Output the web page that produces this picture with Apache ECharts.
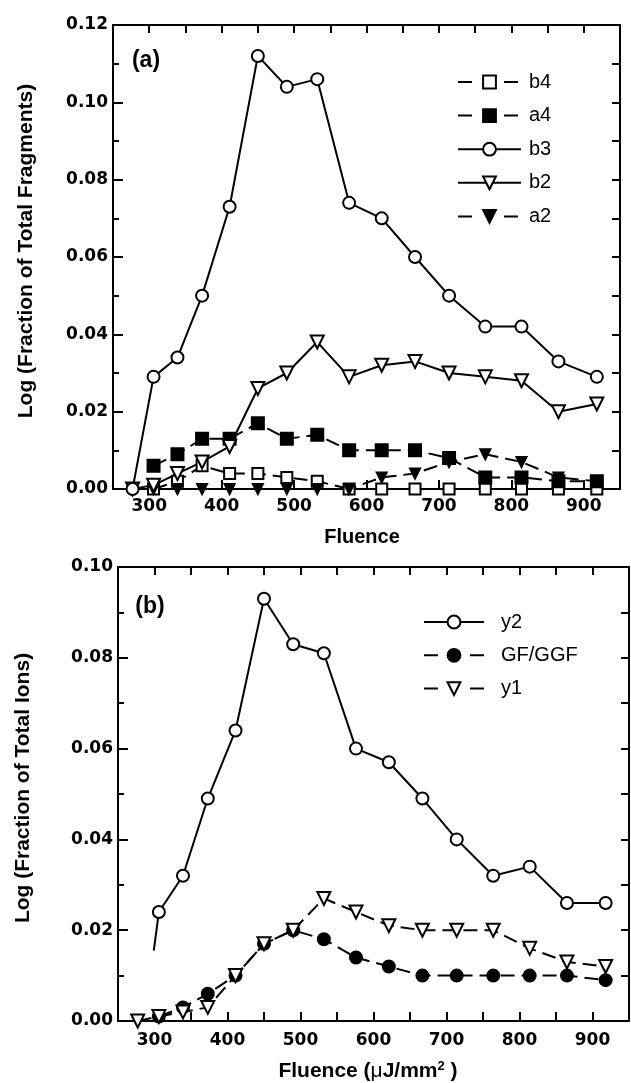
<!DOCTYPE html>
<html><head><meta charset="utf-8">
<script src="https://cdn.jsdelivr.net/npm/echarts@6/dist/echarts.min.js"></script>
<style>html,body{margin:0;padding:0;background:#fff}#c{width:631px;height:1083px}</style>
</head><body><div id="c"></div>
<script>
// ---- data ----
const fluence = [277, 306, 339, 373, 411, 450, 490, 532, 576, 621, 667, 714, 764, 814, 865, 918];
// panel (a)
const b4 = [null, 0, 0.002, 0.006, 0.004, 0.004, 0.003, 0.002, 0, 0, 0, 0, 0, 0, 0, 0];
const a4 = [null, 0.006, 0.009, 0.013, 0.013, 0.017, 0.013, 0.014, 0.010, 0.010, 0.010, 0.008, 0.003, 0.003, 0.002, 0.002];
const b3 = [0, 0.029, 0.034, 0.050, 0.073, 0.112, 0.104, 0.106, 0.074, 0.070, 0.060, 0.050, 0.042, 0.042, 0.033, 0.029];
const b2 = [0, 0.001, 0.004, 0.007, 0.011, 0.026, 0.030, 0.038, 0.029, 0.032, 0.033, 0.030, 0.029, 0.028, 0.020, 0.022];
const a2 = [null, 0, 0, 0, 0, 0, 0, 0, 0, 0.003, 0.004, 0.007, 0.009, 0.007, 0.003, 0.002];
// panel (b)
const y2 = [null, 0.024, 0.032, 0.049, 0.064, 0.093, 0.083, 0.081, 0.060, 0.057, 0.049, 0.040, 0.032, 0.034, 0.026, 0.026];
const y2LeadFluence = 299;   // line start without marker
const y2LeadValue = 0.0155;
const gfggf = [null, 0.001, 0.003, 0.006, 0.010, 0.017, 0.020, 0.018, 0.014, 0.012, 0.010, 0.010, 0.010, 0.010, 0.010, 0.009];
const y1 = [0, 0.001, 0.002, 0.003, 0.010, 0.017, 0.020, 0.027, 0.024, 0.021, 0.020, 0.020, 0.020, 0.016, 0.013, 0.012];
// ticks
const xTickLabels = [300, 400, 500, 600, 700, 800, 900];
const xRange = [250, 950];
const yRangeA = [0, 0.12];
const yRangeB = [0, 0.10];

function pairs(vals) {
  const out = [];
  vals.forEach((v, i) => { if (v !== null) out.push([fluence[i], v]); });
  return out;
}

const chart = echarts.init(document.getElementById('c'), null, {renderer: 'canvas'});
const TICKFONT = 'DejaVu Sans';
const TXTFONT = 'Liberation Sans, Arial, sans-serif';
const dash = [14, 7];

function xAxes(gridIndex, bottomTickCustom, labelMargin) {
  const common = {
    gridIndex, type: 'value', min: xRange[0], max: xRange[1], interval: 50,
    splitLine: {show: false},
    axisLine: {show: true, onZero: false, lineStyle: {color: '#000', width: 2}}
  };
  const bottom = Object.assign({}, common, {
    position: 'bottom',
    axisTick: Object.assign({inside: true, length: 9, lineStyle: {color: '#000', width: 2}},
      bottomTickCustom ? {customValues: xTickLabels} : {}),
    axisLabel: {customValues: xTickLabels, color: '#000', fontFamily: TICKFONT, fontWeight: 'bold', fontSize: 17, margin: labelMargin}
  });
  const top = Object.assign({}, common, {
    position: 'top',
    axisTick: {inside: true, length: 8, lineStyle: {color: '#000', width: 2}},
    axisLabel: {show: false}
  });
  return [bottom, top];
}
function yAxes(gridIndex, range) {
  const common = {
    gridIndex, type: 'value', min: range[0], max: range[1],
    splitLine: {show: false},
    axisLine: {show: true, onZero: false, lineStyle: {color: '#000', width: 2}}
  };
  const left = Object.assign({}, common, {
    position: 'left', interval: 0.02,
    axisTick: {inside: true, length: 10, lineStyle: {color: '#000', width: 2}},
    minorTick: {show: true, splitNumber: 2, length: 6, lineStyle: {color: '#000', width: 2}},
    axisLabel: {color: '#000', fontFamily: TICKFONT, fontWeight: 'bold', fontSize: 17, margin: 5,
      formatter: v => v.toFixed(2)}
  });
  const right = Object.assign({}, common, {
    position: 'right', interval: 0.01,
    axisTick: {inside: true, length: 8, lineStyle: {color: '#000', width: 2}},
    axisLabel: {show: false}
  });
  return [left, right];
}

function ser(name, data, xi, yi, symbol, size, filled, dashed, rotate) {
  return {
    name, type: 'line', data, xAxisIndex: xi, yAxisIndex: yi,
    symbol, symbolSize: size, symbolRotate: rotate || 0, showAllSymbol: true,
    itemStyle: {color: filled ? '#000' : '#fff', borderColor: '#000', borderWidth: 2},
    lineStyle: {color: '#000', width: 2, type: dashed ? dash : 'solid'},
    emphasis: {disabled: true}, animation: false, clip: false
  };
}

const y2Data = [{value: [y2LeadFluence, y2LeadValue], symbol: 'none'}].concat(pairs(y2));
const legendDash = {type: [14, 32]};

const option = {
  backgroundColor: '#fff',
  animation: false,
  grid: [
    {left: 113, top: 25, width: 507, height: 464},
    {left: 118, top: 567, width: 511, height: 454}
  ],
  xAxis: [...xAxes(0, true, 9), ...xAxes(1, false, 11)],
  yAxis: [...yAxes(0, yRangeA), ...yAxes(1, yRangeB)],
  legend: [
    {
      orient: 'vertical', left: 452, top: 67, itemWidth: 63, itemHeight: 16, itemGap: 13.6,
      selectedMode: false,
      textStyle: {fontFamily: TXTFONT, fontSize: 20, color: '#000', lineHeight: 20, padding: [0, 0, 0, 3]},
      data: [
        {name: 'b4', lineStyle: legendDash},
        {name: 'a4', lineStyle: legendDash},
        {name: 'b3'},
        {name: 'b2'},
        {name: 'a2', lineStyle: legendDash}
      ]
    },
    {
      orient: 'vertical', left: 418, top: 607, itemWidth: 60, itemHeight: 16, itemGap: 13.3,
      selectedMode: false,
      textStyle: {fontFamily: TXTFONT, fontSize: 20, color: '#000', lineHeight: 20, padding: [0, 0, 0, 12]},
      data: [
        {name: 'y2'},
        {name: 'GF/GGF', lineStyle: legendDash},
        {name: 'y1', lineStyle: legendDash}
      ]
    }
  ],
  series: [
    ser('b4', pairs(b4), 0, 0, 'rect', 11, false, true),
    ser('a4', pairs(a4), 0, 0, 'rect', 12, true, true),
    ser('a2', pairs(a2), 0, 0, 'triangle', 10, true, true, 180),
    ser('b2', pairs(b2), 0, 0, 'triangle', 13, false, false, 180),
    ser('b3', pairs(b3), 0, 0, 'circle', 12, false, false),
    ser('GF/GGF', pairs(gfggf), 2, 2, 'circle', 12, true, true),
    ser('y1', pairs(y1), 2, 2, 'triangle', 13, false, true, 180),
    ser('y2', y2Data, 2, 2, 'circle', 12, false, false)
  ],
  graphic: [
    {type: 'text', x: 146, y: 61, style: {text: '(a)', font: 'bold 23px ' + TXTFONT, fill: '#000', align: 'center', verticalAlign: 'middle'}},
    {type: 'text', x: 150, y: 607, style: {text: '(b)', font: 'bold 23px ' + TXTFONT, fill: '#000', align: 'center', verticalAlign: 'middle'}},
    {type: 'text', x: 362, y: 537, style: {text: 'Fluence', font: 'bold 20px ' + TXTFONT, fill: '#000', align: 'center', verticalAlign: 'middle'}},
    {type: 'text', x: 26, y: 251, rotation: Math.PI / 2,
      style: {text: 'Log (Fraction of Total Fragments)', font: 'bold 21px ' + TXTFONT, fill: '#000', align: 'center', verticalAlign: 'middle'}},
    {type: 'text', x: 23, y: 788, rotation: Math.PI / 2,
      style: {text: 'Log (Fraction of Total Ions)', font: 'bold 21px ' + TXTFONT, fill: '#000', align: 'center', verticalAlign: 'middle'}},
    {type: 'text', x: 368, y: 1071,
      style: {
        text: '{a|Fluence (}{m|μ}{a|J/mm}{s|2}{a| )}', align: 'center', verticalAlign: 'middle',
        rich: {
          a: {font: 'bold 21px ' + TXTFONT, fill: '#000', lineHeight: 22, verticalAlign: 'bottom'},
          m: {font: '21px ' + TXTFONT, fill: '#000', lineHeight: 22, verticalAlign: 'bottom'},
          s: {font: 'bold 13px ' + TXTFONT, fill: '#000', lineHeight: 22, verticalAlign: 'top'}
        }
      }}
  ]
};
chart.setOption(option);
</script>
</body></html>
